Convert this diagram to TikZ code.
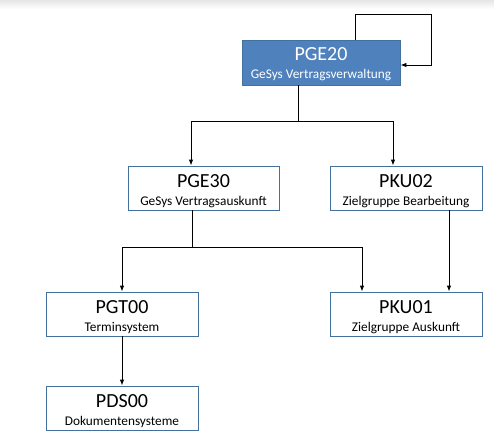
\documentclass[tikz,border=0pt]{standalone}
\usepackage{fontspec}
\setmainfont{Carlito}
\usetikzlibrary{arrows.meta,calc}
\definecolor{boxblue}{HTML}{4F81BD}
\definecolor{boxedge}{HTML}{41719C}
\tikzset{
  unitbox/.style={draw=boxedge,line width=0.9pt,fill=white,rectangle,inner sep=0pt},
  hotbox/.style={unitbox,fill=boxblue},
  titletext/.style={anchor=base,inner sep=0pt,font=\fontsize{20}{23}\selectfont},
  subtext/.style={anchor=base,inner sep=0pt,font=\fontsize{13.3}{15}\selectfont},
  conn/.style={line width=0.9pt,-{Latex[length=6pt,width=4.5pt]}},
  plain/.style={line width=0.9pt}
}
\newcommand{\unitnode}[8]{% name, style, left, top, right, bottom, title, sub
  \node[#2,minimum width=#5pt-#3pt,minimum height=#6pt-#4pt] (#1) at ({(#3+#5)/2},{(#4+#6)/2}) {};
  \node[titletext] (#1t) at ({(#3+#5)/2},{#4+21}) {#7};
  \node[subtext] (#1s) at ({(#3+#5)/2},{#4+39}) {#8};
}
\begin{document}
\begin{tikzpicture}[x=1pt,y=-1pt]
\useasboundingbox (0,0) rectangle (494,441);
\shade[top color=black!10,bottom color=white] (0,0) rectangle (494,9);
\unitnode{pge20}{hotbox}{242}{40}{400}{85}{\color{white}PGE20}{\color{white}GeSys Vertragsverwaltung}
\unitnode{pge30}{unitbox}{128}{166}{279}{210}{PGE30}{GeSys Vertragsauskunft}
\unitnode{pku02}{unitbox}{330}{166}{482}{210}{PKU02}{Zielgruppe Bearbeitung}
\unitnode{pgt00}{unitbox}{46}{292}{198}{336}{PGT00}{Terminsystem}
\unitnode{pku01}{unitbox}{330}{292}{482}{336}{PKU01}{Zielgruppe Auskunft}
\unitnode{pds00}{unitbox}{46}{386}{198}{430}{PDS00}{Dokumentensysteme}
% self loop
\coordinate (loopa) at (355,14);
\coordinate (loopb) at (431,65);
\draw[conn] (pge20.north -| loopa) |- (loopa) -| (loopb) -- (pge20.east |- loopb);
% PGE20 -> PGE30, PKU02
\coordinate (s1) at (298,121);
\draw[plain] (pge20.south -| s1) -- (s1);
\draw[conn] (s1) -| (pge30.north -| 191,0);
\draw[conn] (s1) -| (pku02.north -| 393,0);
% PGE30 -> PGT00, PKU01
\coordinate (s2) at (192,247);
\draw[plain] (pge30.south -| s2) -- (s2);
\draw[conn] (s2) -| (pgt00.north -| 122,0);
\draw[conn] (s2) -| (pku01.north -| 362,0);
% PKU02 -> PKU01
\draw[conn] (pku02.south -| 449,0) -- (pku01.north -| 449,0);
% PGT00 -> PDS00
\draw[conn] (pgt00.south -| 122,0) -- (pds00.north -| 122,0);
\end{tikzpicture}
\end{document}
